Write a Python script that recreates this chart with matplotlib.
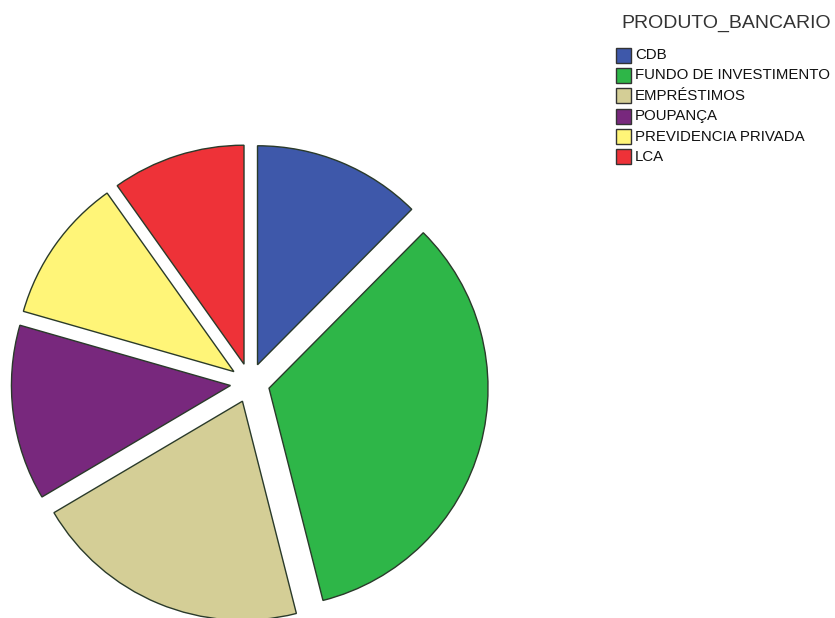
import matplotlib
matplotlib.use("Agg")
import matplotlib.pyplot as plt
from matplotlib.patches import Rectangle

# Data (shares, in percent)
labels = ["CDB", "FUNDO DE INVESTIMENTO", "EMPRÉSTIMOS", "POUPANÇA",
          "PREVIDENCIA PRIVADA", "LCA"]
values = [12.4, 33.5, 20.4, 12.9, 10.7, 9.8]
colors = ["#3E58AA", "#2EB648", "#D4CE96", "#78287D", "#FFF578", "#EE3238"]
legend_title = "PRODUTO_BANCARIO"

W, H = 835, 618
fig = plt.figure(figsize=(W / 100, H / 100), dpi=100)
fig.patch.set_facecolor("white")
ax = fig.add_axes([0, 0, 1, 1])

R = 219.0          # pie radius in pixels
cx, cy = 250.0, 383.0  # pie centre (pixels, from top-left)

ax.pie(values, colors=colors, startangle=90, counterclock=False,
       explode=[0.09] * len(values), radius=1.0,
       wedgeprops=dict(edgecolor="#2a3a2a", linewidth=1.0))
ax.set_aspect("auto")
ax.set_xlim(-cx / R, (W - cx) / R)
ax.set_ylim(-(H - cy) / R, cy / R)
ax.axis("off")

def fx(x):
    return x / W

def fy(y):
    return 1 - y / H

font = "Liberation Sans"
fig.text(fx(621), fy(23), legend_title, fontsize=14, family=font,
         color="#333333", va="center", ha="left")

y0, dy = 55.0, 20.4
for i, (lab, col) in enumerate(zip(labels, colors)):
    yc = y0 + i * dy
    fig.add_artist(Rectangle((fx(616), fy(yc + 7.5)), 15 / W, 15 / H,
                             transform=fig.transFigure, facecolor=col,
                             edgecolor="#333333", linewidth=1.0))
    fig.text(fx(635), fy(yc), lab, fontsize=10.8, family=font,
             color="#111111", va="center", ha="left")

fig.savefig("out.png", dpi=100)
